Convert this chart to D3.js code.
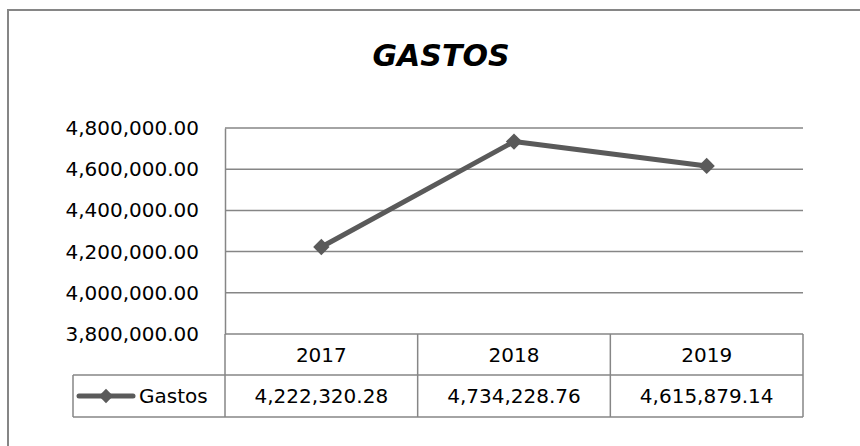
<!DOCTYPE html>
<html>
<head>
<meta charset="utf-8">
<script src="https://cdn.jsdelivr.net/npm/d3@7"></script>
<style>
  body { margin: 0; background: #fff; }
  text { font-family: 'DejaVu Sans', sans-serif; fill: #000; }
</style>
</head>
<body>
<div id="chart"></div>
<script>
const years = ['2017', '2018', '2019'];
const gastos = [4222320.28, 4734228.76, 4615879.14];
const yTicks = [3800000, 4000000, 4200000, 4400000, 4600000, 4800000];
const seriesName = 'Gastos';
const title = 'GASTOS';

const width = 860, height = 446;
const gray = '#868686', lineColor = '#5a5a5a';
const fmt = d3.format(',.2f');

const svg = d3.select('#chart').append('svg').attr('width', width).attr('height', height);

// outer chart frame (cut off right and bottom)
svg.append('rect')
  .attr('x', 8).attr('y', 10)
  .attr('width', 900).attr('height', 500)
  .attr('fill', 'none').attr('stroke', gray).attr('stroke-width', 2);

svg.append('text')
  .attr('x', 441).attr('y', 66)
  .attr('text-anchor', 'middle')
  .style('font-size', '30px').style('font-weight', 'bold').style('font-style', 'italic')
  .text(title);

const x = d3.scaleBand().domain(years).range([225, 803]);
const y = d3.scaleLinear().domain([3800000, 4800000]).range([334, 128]);

// gridlines
svg.append('g')
  .selectAll('line')
  .data(yTicks)
  .join('line')
  .attr('x1', 225).attr('x2', 803)
  .attr('y1', d => y(d)).attr('y2', d => y(d))
  .attr('stroke', gray).attr('stroke-width', 1.5);

// y axis labels
const yAxis = svg.append('g')
  .attr('transform', 'translate(225,0)')
  .call(d3.axisLeft(y).tickValues(yTicks).tickFormat(fmt).tickSize(0).tickPadding(26));
yAxis.select('.domain').attr('stroke', gray).attr('stroke-width', 1.5);
yAxis.selectAll('text').style('font-size', '20px').style('font-family', "'DejaVu Sans', sans-serif").attr('fill', '#000');

// data table
const rowTop = 334, rowMid = 375, rowBot = 417, legendLeft = 73;
const table = svg.append('g').attr('stroke', gray).attr('stroke-width', 1.5).attr('fill', 'none');
table.append('line').attr('x1', 225).attr('x2', 225).attr('y1', rowTop).attr('y2', rowBot);
table.append('line').attr('x1', legendLeft).attr('x2', 803).attr('y1', rowMid).attr('y2', rowMid);
table.append('line').attr('x1', legendLeft).attr('x2', 803).attr('y1', rowBot).attr('y2', rowBot);
table.append('line').attr('x1', legendLeft).attr('x2', legendLeft).attr('y1', rowMid).attr('y2', rowBot);
table.selectAll('.div')
  .data(years)
  .join('line')
  .attr('class', 'div')
  .attr('x1', d => x(d) + x.bandwidth()).attr('x2', d => x(d) + x.bandwidth())
  .attr('y1', rowTop).attr('y2', rowBot);

svg.append('g').selectAll('text')
  .data(years)
  .join('text')
  .attr('x', d => x(d) + x.bandwidth() / 2)
  .attr('y', (rowTop + rowMid) / 2 + 7)
  .attr('text-anchor', 'middle')
  .style('font-size', '20px')
  .text(d => d);

svg.append('g').selectAll('text')
  .data(gastos)
  .join('text')
  .attr('x', (d, i) => x(years[i]) + x.bandwidth() / 2)
  .attr('y', (rowMid + rowBot) / 2 + 7)
  .attr('text-anchor', 'middle')
  .style('font-size', '20px')
  .text(d => fmt(d));

// legend key inside table
const legY = (rowMid + rowBot) / 2;
svg.append('line')
  .attr('x1', 79).attr('x2', 133).attr('y1', legY).attr('y2', legY)
  .attr('stroke', lineColor).attr('stroke-width', 5).attr('stroke-linecap', 'round');
svg.append('path')
  .attr('d', d3.symbol(d3.symbolDiamond2, 130)())
  .attr('transform', `translate(106,${legY})`)
  .attr('fill', lineColor);
svg.append('text')
  .attr('x', 139).attr('y', legY + 7)
  .style('font-size', '20px')
  .text(seriesName);

// series line + markers
const line = d3.line().x((d, i) => x(years[i]) + x.bandwidth() / 2).y(d => y(d));
svg.append('path')
  .datum(gastos)
  .attr('d', line)
  .attr('fill', 'none')
  .attr('stroke', lineColor).attr('stroke-width', 5).attr('stroke-linejoin', 'round');

svg.append('g').selectAll('path')
  .data(gastos)
  .join('path')
  .attr('d', d3.symbol(d3.symbolDiamond2, 170)())
  .attr('transform', (d, i) => `translate(${x(years[i]) + x.bandwidth() / 2},${y(d)})`)
  .attr('fill', lineColor);
</script>
</body>
</html>
